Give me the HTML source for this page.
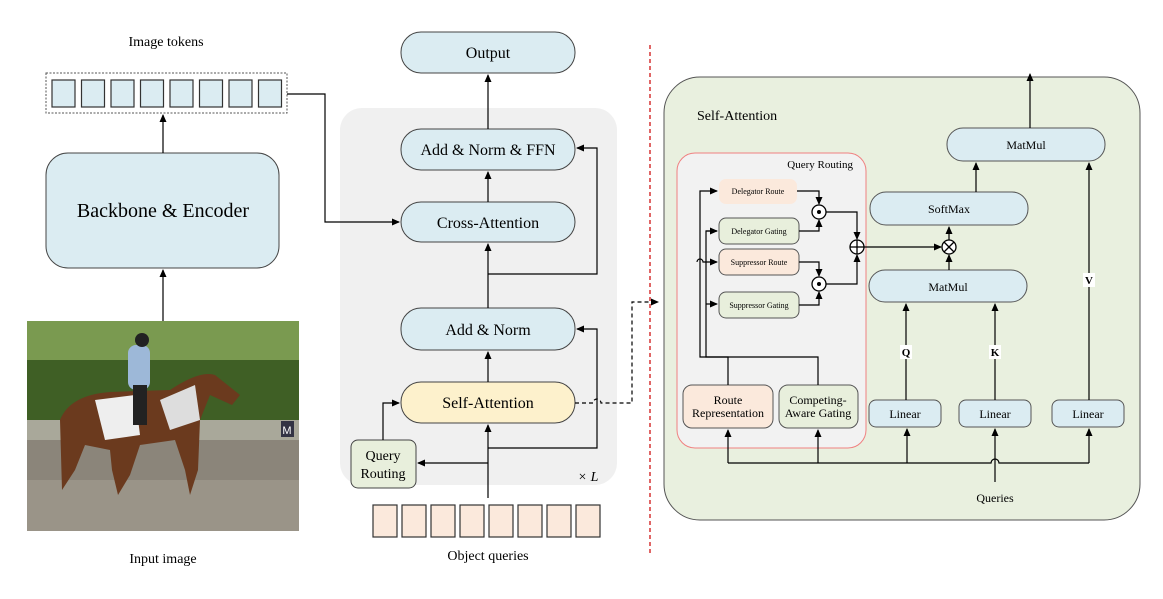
<!DOCTYPE html>
<html><head><meta charset="utf-8"><style>
body{margin:0;background:#fff;}
svg{display:block;font-family:"Liberation Serif",serif;}
</style></head><body>
<svg width="1163" height="599" viewBox="0 0 1163 599" xmlns="http://www.w3.org/2000/svg">
<defs>
<marker id="a" markerWidth="8" markerHeight="8" refX="7" refY="4" orient="auto" markerUnits="userSpaceOnUse"><path d="M0,0.5 L8,4 L0,7.5z" fill="#000"/></marker>
</defs>
<text x="166" y="46" font-size="14" text-anchor="middle">Image tokens</text>
<rect x="46" y="73" width="241" height="40" fill="none" stroke="#555" stroke-dasharray="2,1.5"/>
<g fill="#dbecf2" stroke="#333" stroke-width="1.2">
<rect x="52" y="80" width="23" height="27"/><rect x="81.5" y="80" width="23" height="27"/><rect x="111" y="80" width="23" height="27"/><rect x="140.5" y="80" width="23" height="27"/><rect x="170" y="80" width="23" height="27"/><rect x="199.5" y="80" width="23" height="27"/><rect x="229" y="80" width="23" height="27"/><rect x="258.5" y="80" width="23" height="27"/>
</g>
<rect x="46" y="153" width="233" height="115" rx="22" fill="#dbecf2" stroke="#444"/>
<text x="163" y="217" font-size="20" text-anchor="middle">Backbone &amp; Encoder</text>
<g stroke="#000" stroke-width="1.2" fill="none">
<line x1="163" y1="153" x2="163" y2="115" marker-end="url(#a)"/>
<line x1="163" y1="321" x2="163" y2="270" marker-end="url(#a)"/>
</g>
<!-- photo -->
<rect x="27" y="321" width="272" height="210" fill="#5d7a3a"/>
<rect x="27" y="321" width="272" height="60" fill="#7a9a50"/>
<rect x="27" y="360" width="272" height="60" fill="#3f5f25"/>
<rect x="27" y="420" width="272" height="20" fill="#a9a89a"/>
<rect x="27" y="440" width="272" height="91" fill="#8b857a"/>
<rect x="27" y="480" width="272" height="51" fill="#9a9488"/>
<path d="M60,420 Q70,395 110,392 L170,390 Q200,370 215,375 L240,395 L232,405 L210,395 L200,420 L198,470 L190,495 L185,470 L175,440 L140,445 L130,475 L118,495 L112,470 L110,450 L85,445 L75,470 L62,490 Z" fill="#6b3a1e"/>
<path d="M95,400 L135,395 L140,435 L105,440 Z" fill="#eee"/>
<path d="M160,400 L195,385 L200,420 L170,430 Z" fill="#ddd"/>
<rect x="128" y="345" width="22" height="45" rx="8" fill="#9db8d8"/>
<circle cx="142" cy="340" r="7" fill="#222"/>
<rect x="133" y="385" width="14" height="40" fill="#222"/>
<rect x="281" y="421" width="13" height="16" fill="#334"/>
<text x="287" y="434" font-size="11" fill="#fff" text-anchor="middle" font-family="Liberation Sans,sans-serif">M</text>
<text x="163" y="563" font-size="14" text-anchor="middle">Input image</text>

<!-- Middle -->
<rect x="340" y="108" width="277" height="377" rx="22" fill="#f0f0f0"/>
<polyline points="287,94 325,94 325,222 399,222" fill="none" stroke="#000" stroke-width="1.2" marker-end="url(#a)"/>
<g stroke="#444" stroke-width="1">
<rect x="401" y="32" width="174" height="41" rx="20" fill="#dbecf2"/>
<rect x="401" y="129" width="174" height="41" rx="20" fill="#dbecf2"/>
<rect x="401" y="202" width="174" height="40" rx="20" fill="#dbecf2"/>
<rect x="401" y="308" width="174" height="42" rx="20" fill="#dbecf2"/>
<rect x="401" y="382" width="174" height="41" rx="20" fill="#fdf1cc"/>
<rect x="351" y="440" width="65" height="48" rx="7" fill="#e8efdc"/>
</g>
<g font-size="16" text-anchor="middle">
<text x="488" y="58">Output</text>
<text x="488" y="155">Add &amp; Norm &amp; FFN</text>
<text x="488" y="228">Cross-Attention</text>
<text x="488" y="335">Add &amp; Norm</text>
<text x="488" y="408">Self-Attention</text>
<text x="383" y="460" font-size="14">Query</text>
<text x="383" y="478" font-size="14">Routing</text>
</g>
<text x="588" y="481" font-size="14" text-anchor="middle" font-style="italic">× L</text>
<g stroke="#000" stroke-width="1.2" fill="none">
<line x1="488" y1="498" x2="488" y2="425" marker-end="url(#a)"/>
<line x1="488" y1="382" x2="488" y2="352" marker-end="url(#a)"/>
<line x1="488" y1="308" x2="488" y2="244" marker-end="url(#a)"/>
<line x1="488" y1="202" x2="488" y2="172" marker-end="url(#a)"/>
<line x1="488" y1="129" x2="488" y2="75" marker-end="url(#a)"/>
<polyline points="488,448 597,448 597,329 577,329" marker-end="url(#a)"/>
<polyline points="488,274 597,274 597,148 577,148" marker-end="url(#a)"/>
<polyline points="488,463 418,463" marker-end="url(#a)"/>
<polyline points="383,440 383,403 399,403" marker-end="url(#a)"/>
<path d="M575,403 L593,403 A4,4 0 0 1 601,403 L632,403 L632,302 L658,302" stroke-dasharray="4,3" marker-end="url(#a)"/>
</g>
<g fill="#fbe9dc" stroke="#333" stroke-width="1.2">
<rect x="373" y="505" width="24" height="32"/><rect x="402" y="505" width="24" height="32"/><rect x="431" y="505" width="24" height="32"/><rect x="460" y="505" width="24" height="32"/><rect x="489" y="505" width="24" height="32"/><rect x="518" y="505" width="24" height="32"/><rect x="547" y="505" width="24" height="32"/><rect x="576" y="505" width="24" height="32"/>
</g>
<text x="488" y="560" font-size="14" text-anchor="middle">Object queries</text>
<line x1="650" y1="45" x2="650" y2="556" stroke="#c00" stroke-width="1.2" stroke-dasharray="4,3"/>

<!-- Right -->
<rect x="664" y="77" width="476" height="443" rx="36" fill="#e9f0df" stroke="#555"/>
<text x="697" y="120" font-size="14">Self-Attention</text>
<rect x="677" y="153" width="189" height="295" rx="18" fill="#f2f2f2" stroke="#f08080"/>
<text x="853" y="168" font-size="11" text-anchor="end">Query Routing</text>
<g stroke="#555" stroke-width="1">
<rect x="719" y="179" width="78" height="25" rx="7" fill="#fbe9dc" stroke="none"/>
<rect x="719" y="218" width="80" height="26" rx="7" fill="#e8efdc"/>
<rect x="719" y="249" width="80" height="26" rx="7" fill="#fbe9dc"/>
<rect x="719" y="292" width="80" height="26" rx="7" fill="#e8efdc"/>
<rect x="683" y="385" width="90" height="43" rx="9" fill="#fbe9dc"/>
<rect x="779" y="385" width="79" height="43" rx="9" fill="#e8efdc"/>
<rect x="869" y="400" width="72" height="27" rx="7" fill="#dbecf2"/>
<rect x="959" y="400" width="72" height="27" rx="7" fill="#dbecf2"/>
<rect x="1052" y="400" width="72" height="27" rx="7" fill="#dbecf2"/>
<rect x="869" y="270" width="158" height="32" rx="16" fill="#dbecf2"/>
<rect x="870" y="192" width="158" height="33" rx="16" fill="#dbecf2"/>
<rect x="947" y="128" width="158" height="33" rx="16" fill="#dbecf2"/>
</g>
<g font-size="8" text-anchor="middle">
<text x="758" y="194">Delegator Route</text>
<text x="759" y="234">Delegator Gating</text>
<text x="759" y="265">Suppressor Route</text>
<text x="759" y="308">Suppressor Gating</text>
</g>
<g font-size="12" text-anchor="middle">
<text x="728" y="404">Route</text>
<text x="728" y="417">Representation</text>
<text x="818" y="404">Competing-</text>
<text x="818" y="417">Aware Gating</text>
<text x="905" y="418">Linear</text>
<text x="995" y="418">Linear</text>
<text x="1088" y="418">Linear</text>
<text x="948" y="291">MatMul</text>
<text x="949" y="213">SoftMax</text>
<text x="1026" y="149">MatMul</text>
<text x="995" y="502">Queries</text>
</g>
<g stroke="#000" stroke-width="1.2" fill="none">
<polyline points="728,385 728,357 700,357 700,191 717,191" marker-end="url(#a)"/>
<polyline points="818,385 818,357 706,357 706,231 717,231"/>
<line x1="706" y1="231" x2="717" y2="231" marker-end="url(#a)"/>
<line x1="706" y1="304" x2="717" y2="304" marker-end="url(#a)"/>
<path d="M697,262 A3,3 0 0 1 703,262 L717,262" marker-end="url(#a)"/>
<polyline points="797,191 819,191 819,204" marker-end="url(#a)"/>
<polyline points="799,231 819,231 819,220" marker-end="url(#a)"/>
<polyline points="799,262 819,262 819,276" marker-end="url(#a)"/>
<polyline points="799,305 819,305 819,292" marker-end="url(#a)"/>
<polyline points="826,212 857,212 857,239" marker-end="url(#a)"/>
<polyline points="826,284 857,284 857,255" marker-end="url(#a)"/>
<line x1="864" y1="247" x2="941" y2="247" marker-end="url(#a)"/>
<line x1="949" y1="270" x2="949" y2="255" marker-end="url(#a)"/>
<line x1="949" y1="240" x2="949" y2="227" marker-end="url(#a)"/>
<line x1="976" y1="192" x2="976" y2="163" marker-end="url(#a)"/>
<line x1="1030" y1="128" x2="1030" y2="74" marker-end="url(#a)"/>
<line x1="906" y1="400" x2="906" y2="304" marker-end="url(#a)"/>
<line x1="995" y1="400" x2="995" y2="304" marker-end="url(#a)"/>
<line x1="1089" y1="400" x2="1089" y2="163" marker-end="url(#a)"/>
<path d="M728,463 L991,463 A4,4 0 0 1 999,463 L1089,463"/>
<line x1="728" y1="463" x2="728" y2="430" marker-end="url(#a)"/>
<line x1="818" y1="463" x2="818" y2="430" marker-end="url(#a)"/>
<line x1="907" y1="463" x2="907" y2="429" marker-end="url(#a)"/>
<line x1="1089" y1="463" x2="1089" y2="429" marker-end="url(#a)"/>
<line x1="995" y1="482" x2="995" y2="429" marker-end="url(#a)"/>
</g>
<g fill="#fff" stroke="#000" stroke-width="1.3">
<circle cx="819" cy="212" r="7"/><circle cx="819" cy="284" r="7"/>
<circle cx="857" cy="247" r="7"/><circle cx="949" cy="247" r="7"/>
</g>
<circle cx="819" cy="212" r="2" fill="#000"/><circle cx="819" cy="284" r="2" fill="#000"/>
<g stroke="#000" stroke-width="1.3">
<line x1="850" y1="247" x2="864" y2="247"/><line x1="857" y1="240" x2="857" y2="254"/>
<line x1="944" y1="242" x2="954" y2="252"/><line x1="954" y1="242" x2="944" y2="252"/>
</g>
<g font-size="11" font-weight="bold" text-anchor="middle">
<rect x="900" y="345" width="12" height="14" fill="#fff"/><text x="906" y="356">Q</text>
<rect x="989" y="345" width="12" height="14" fill="#fff"/><text x="995" y="356">K</text>
<rect x="1083" y="273" width="12" height="14" fill="#fff"/><text x="1089" y="284">V</text>
</g>
</svg>
</body></html>
